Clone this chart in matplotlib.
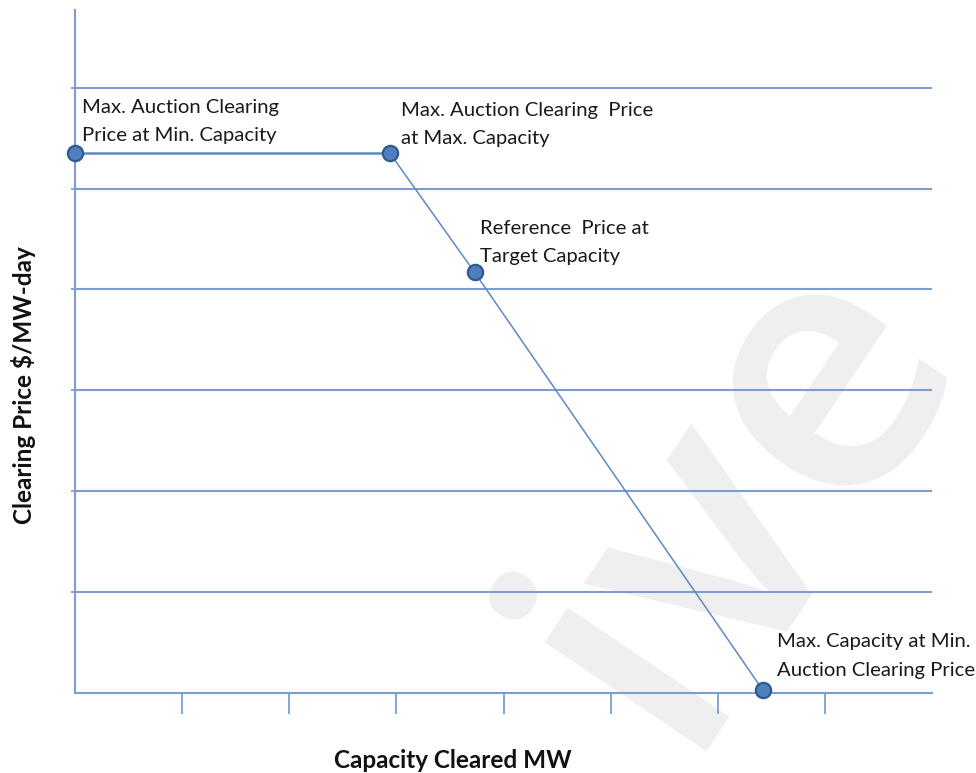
import matplotlib
matplotlib.use("Agg")
import matplotlib.pyplot as plt

# key points of the curve (x in tick units, y in gridline units)
capacity = [0.0, 2.94, 3.73, 6.42]
price = [5.35, 5.35, 4.17, 0.03]
point_labels = [
    "Max. Auction Clearing\nPrice at Min. Capacity",
    "Max. Auction Clearing  Price\nat Max. Capacity",
    "Reference  Price at\nTarget Capacity",
    "Max. Capacity at Min.\nAuction Clearing Price",
]
label_pos = [(0.07, 5.89), (3.04, 5.86), (3.78, 4.69), (6.55, 0.59)]
x_ticks = [1, 2, 3, 4, 5, 6, 7]
y_grid = [1, 2, 3, 4, 5, 6]

axis_col = "#7c9dd0"
line_col = "#5f88c4"
marker_face = "#4f7fbd"
marker_edge = "#2f5a8f"
text_col = "#1a1a1a"

fig = plt.figure(figsize=(9.76, 7.73), dpi=100)
ax = fig.add_axes([75 / 976, 80 / 773, (932 - 75) / 976, (693 - 10) / 773])
ax.patch.set_alpha(0)

# watermark (behind the chart)
fig.text(741 / 976, 1 - 492 / 773, "ive", fontsize=260, color="#efefef",
         family="Open Sans", fontweight="semibold", rotation=56,
         ha="center", va="center", zorder=-1)

for y in y_grid:
    ax.axhline(y, color=axis_col, lw=1.5, zorder=1)

ax.plot(capacity[:2], price[:2], color=line_col, lw=1.8, zorder=2)
ax.plot(capacity[1:], price[1:], color=line_col, lw=1.1, zorder=2)
ax.plot(capacity, price, "o", ms=11, mfc=marker_face, mec=marker_edge,
        mew=1.6, zorder=3, clip_on=False)

for (tx, ty), lab in zip(label_pos, point_labels):
    ax.text(tx, ty, lab, fontsize=14.6, family="Lato", color=text_col,
            ha="left", va="top", linespacing=1.8)

ax.set_xlim(0, 8)
ax.set_ylim(0, 6.77)
ax.set_xticks(x_ticks)
ax.set_yticks(y_grid)
ax.set_xticklabels([])
ax.set_yticklabels([])
ax.tick_params(axis="x", direction="out", length=15, width=1.3, color=axis_col)
ax.tick_params(axis="y", direction="out", length=3, width=1.3, color=axis_col)

for s in ["top", "right"]:
    ax.spines[s].set_visible(False)
for s in ["left", "bottom"]:
    ax.spines[s].set_color(axis_col)
    ax.spines[s].set_linewidth(1.5)

fig.text(453 / 976, 1 - 760 / 773, "Capacity Cleared MW", fontsize=17.5,
         fontweight="bold", family="Lato", color="#111111",
         ha="center", va="center")
fig.text(24 / 976, 1 - 385 / 773, "Clearing Price $/MW-day", fontsize=17.5,
         fontweight="bold", family="Lato", color="#111111",
         ha="center", va="center", rotation=90)

fig.savefig("out.png", dpi=100)
